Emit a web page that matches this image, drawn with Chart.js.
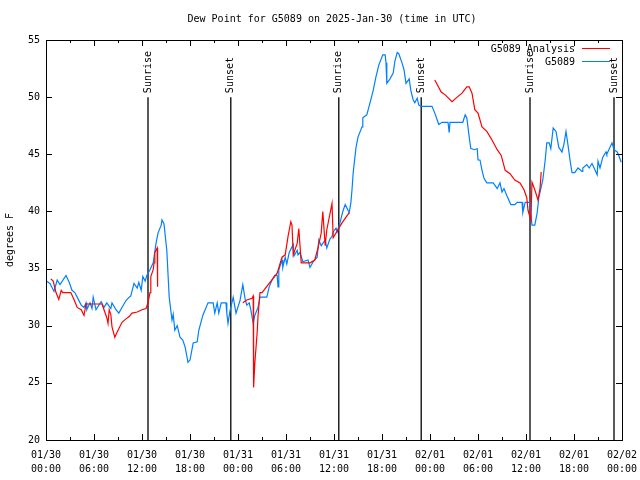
<!DOCTYPE html>
<html>
<head>
<meta charset="utf-8">
<title>Dew Point for G5089</title>
<script src="https://cdn.jsdelivr.net/npm/chart.js@4"></script>
<style>
  body { margin: 0; background: #fff; }
  canvas { display: block; }
</style>
</head>
<body>
<canvas id="dewChart" width="640" height="480"></canvas>
<script>
// hours since 2025-01-30 00:00 UTC
const obsHours = [0.09, 0.5, 1.0, 1.4, 1.75, 2.5, 2.9, 3.25, 3.6, 3.9, 4.4, 4.75, 5.0, 5.1, 5.5, 5.75, 5.9, 6.25, 6.6, 6.9,
  7.25, 7.6, 8.1, 8.25, 8.75, 9.1, 9.5, 10.0, 10.4, 10.6, 11.0, 11.4, 11.6, 11.9, 12.1, 12.4, 12.6, 13.0, 13.4, 13.75,
  14.0, 14.4, 14.5, 14.75, 15.1, 15.4, 15.75, 15.9, 16.1, 16.4, 16.75, 17.1, 17.4, 17.75, 18.0, 18.4, 18.9, 19.1, 19.6, 20.25,
  20.9, 21.1, 21.4, 21.6, 21.9, 22.5, 22.6, 22.75, 23.0, 23.4, 23.75, 24.25, 24.6, 24.9, 25.1, 25.4, 25.6, 25.9, 26.1, 26.5,
  26.75, 27.6, 27.9, 28.25, 28.6, 28.9, 29.0, 29.1, 29.5, 29.6, 29.9, 30.1, 30.4, 30.9, 31.0, 31.4, 31.5, 31.75, 32.1, 32.75,
  33.0, 33.4, 33.9, 34.1, 34.4, 34.9, 35.1, 35.5, 35.75, 35.9, 36.25, 36.4, 36.75, 37.1, 37.4, 37.75, 37.9, 38.1, 38.25, 38.4,
  38.75, 39.0, 39.5, 39.6, 40.1, 40.5, 40.9, 41.25, 41.6, 42.1, 42.4, 42.5, 42.6, 43.0, 43.4, 43.6, 43.9, 44.1, 44.5, 44.75,
  45.0, 45.4, 45.6, 45.9, 46.1, 46.4, 46.6, 46.9, 48.25, 48.6, 48.9, 49.1, 49.5, 50.25, 50.4, 50.5, 52.1, 52.4, 52.6, 52.9,
  53.1, 53.6, 53.9, 54.0, 54.25, 54.5, 54.75, 55.1, 55.9, 56.1, 56.4, 56.75, 57.0, 57.25, 57.6, 58.1, 58.6, 58.9, 59.5, 59.6,
  59.9, 60.5, 60.6, 60.75, 61.1, 61.4, 61.6, 62.1, 62.4, 62.6, 62.9, 63.1, 63.4, 63.75, 64.1, 64.5, 64.75, 65.0, 65.25, 65.5,
  65.75, 66.1, 66.5, 67.0, 67.1, 67.6, 67.9, 68.25, 68.9, 69.0, 69.25, 69.6, 70.0, 70.1, 70.75, 71.0, 71.4, 71.6, 71.9];
const obsDew = [33.9, 33.7, 33.0, 34.0, 33.6, 34.4, 33.8, 33.1, 32.9, 32.5, 31.8, 31.6, 32.0, 31.4, 32.0, 31.5, 32.5, 31.4, 31.8, 32.1,
  31.6, 32.0, 31.5, 32.0, 31.4, 31.1, 31.6, 32.2, 32.5, 32.6, 33.7, 33.3, 33.8, 33.1, 34.3, 33.9, 34.4, 34.9, 35.5, 37.2,
  38.1, 38.8, 39.25, 38.9, 36.6, 32.5, 30.5, 31.0, 29.6, 30.0, 29.0, 28.75, 28.1, 26.8, 27.0, 28.5, 28.6, 29.6, 30.9, 32.0,
  32.0, 31.1, 32.0, 31.1, 32.0, 32.0, 31.1, 30.2, 31.3, 32.5, 31.1, 32.2, 33.6, 32.3, 31.8, 32.0, 31.4, 30.2, 30.9, 31.6,
  32.5, 32.5, 33.4, 34.0, 34.4, 34.4, 33.4, 34.9, 35.75, 35.1, 36.0, 35.4, 36.4, 37.1, 36.1, 36.6, 36.2, 36.4, 35.6, 35.75,
  35.1, 35.6, 36.0, 37.5, 37.0, 37.5, 36.8, 37.6, 37.8, 38.2, 38.55, 38.2, 39.0, 40.0, 40.6, 40.1, 39.9, 40.7, 41.9, 43.4,
  45.6, 46.5, 47.4, 48.2, 48.45, 49.5, 50.6, 51.8, 52.8, 53.7, 53.7, 53.0, 51.2, 51.6, 52.1, 53.1, 53.9, 53.8, 53.0, 52.4,
  51.2, 51.6, 50.6, 49.75, 49.5, 49.9, 49.3, 49.2, 49.2, 48.6, 48.0, 47.6, 47.8, 47.8, 46.9, 47.8, 47.8, 48.45, 48.2, 46.5,
  45.5, 45.4, 45.5, 44.5, 44.5, 43.6, 42.9, 42.5, 42.5, 42.3, 42.0, 42.5, 41.7, 42.0, 41.4, 40.6, 40.6, 40.8, 40.8, 39.9,
  40.8, 40.8, 39.9, 38.8, 38.8, 39.9, 41.2, 42.75, 44.5, 46.0, 46.0, 45.5, 47.3, 47.0, 45.6, 45.2, 45.9, 47.0, 45.8, 44.5,
  43.4, 43.4, 43.8, 43.5, 43.8, 44.1, 43.8, 44.2, 43.2, 44.4, 43.8, 44.75, 45.2, 45.0, 46.0, 45.4, 45.2, 44.9, 44.3];

// analysis series, null marks a gap
const anaHours = [0.6, 0.9, 1.25, 1.6, 1.9, 2.1, 2.5, 3.1, 3.5, 3.9, 4.4, 4.75, 5.0, 7.0, 7.25, 7.6, 7.75, 7.9, 8.1, 8.25,
  8.6, 8.9, 9.5, 10.0, 10.4, 10.75, 11.4, 12.0, 12.5, 12.75, 13.0, 13.1, 13.4, 13.5, 13.6, 13.9, 13.95, 19.0,
  24.6, 25.1, 25.75, 25.9, 25.95, 26.1, 26.4, 26.5, 26.75, 27.0, 28.9, 29.5, 29.9, 30.25, 30.6, 30.75, 30.9, 31.4, 31.6, 31.9,
  33.0, 33.6, 34.0, 34.4, 34.6, 34.9, 35.1, 35.75, 35.9, 36.4, 37.0, 37.9, 43.0,
  48.6, 49.4, 49.9, 50.75, 51.4, 52.0, 52.6, 52.9, 53.25, 53.6, 54.0, 54.5, 55.1, 55.75, 56.4, 56.9, 57.4, 58.0, 58.6, 59.25,
  59.75, 60.1, 60.25, 60.6, 60.75, 61.1, 61.5, 61.75, 61.9];
const anaDew = [34.1, 33.9, 32.9, 32.3, 33.1, 32.9, 32.9, 32.9, 32.3, 31.6, 31.4, 30.9, 31.9, 31.9, 31.4, 30.7, 30.2, 31.4, 31.0, 29.9,
  29.0, 29.45, 30.3, 30.6, 30.8, 31.1, 31.2, 31.4, 31.5, 32.0, 32.9, 34.3, 34.9, 35.5, 36.4, 36.8, 33.4, null,
  32.0, 32.25, 32.4, 32.6, 24.6, 26.7, 29.45, 30.8, 32.9, 32.9, 34.6, 36.0, 36.2, 37.8, 39.1, 38.8, 36.2, 37.2, 38.5, 35.5,
  35.5, 35.75, 36.8, 38.1, 40.0, 37.0, 38.4, 40.7, 37.7, 38.3, 39.0, 39.9, null,
  51.5, 50.45, 50.2, 49.6, 50.0, 50.35, 50.9, 50.9, 50.35, 48.9, 48.6, 47.4, 47.0, 46.25, 45.4, 44.9, 43.6, 43.3, 42.75, 42.5,
  41.9, 41.2, 40.1, 39.25, 42.55, 41.9, 41.0, 42.0, 43.45];

const sunHours = [12.75, 23.1, 36.6, 46.9, 60.5, 71.0];
const sunLabels = ['Sunrise', 'Sunset', 'Sunrise', 'Sunset', 'Sunrise', 'Sunset'];
const sunTop = 50;

const dayLabels = ['01/30', '01/30', '01/30', '01/30', '01/31', '01/31', '01/31', '01/31', '02/01', '02/01', '02/01', '02/01', '02/02'];
const timeLabels = ['00:00', '06:00', '12:00', '18:00', '00:00', '06:00', '12:00', '18:00', '00:00', '06:00', '12:00', '18:00', '00:00'];

const FONT = '10px "DejaVu Sans Mono", monospace';

function pairs(xs, ys) {
    return xs.map((x, i) => ({ x: x, y: ys[i] }));
}

const sunSets = sunHours.map(h => ({
    data: [{ x: h, y: 20 }, { x: h, y: sunTop }],
    borderColor: '#000',
    borderWidth: 1.3,
    pointRadius: 0,
    fill: false
}));

const frame = {
    id: 'frame',
    afterDraw(chart) {
        const ctx = chart.ctx;
        const a = chart.chartArea;
        const xs = chart.scales.x;
        const ys = chart.scales.y;
        ctx.save();
        ctx.strokeStyle = '#000';
        ctx.lineWidth = 1;
        ctx.strokeRect(Math.round(a.left) + 0.5, Math.round(a.top) + 0.5,
            Math.round(a.right - a.left), Math.round(a.bottom - a.top));

        // x ticks, every 3 hours, inward on bottom and top
        ctx.beginPath();
        for (let h = 0; h <= 72; h += 3) {
            const px = Math.round(xs.getPixelForValue(h)) + 0.5;
            const len = h % 6 === 0 ? 6 : 3;
            ctx.moveTo(px, a.bottom); ctx.lineTo(px, a.bottom - len);
            ctx.moveTo(px, a.top); ctx.lineTo(px, a.top + len);
        }
        for (let v = 20; v <= 55; v += 5) {
            const py = Math.round(ys.getPixelForValue(v)) + 0.5;
            ctx.moveTo(a.left, py); ctx.lineTo(a.left + 6, py);
            ctx.moveTo(a.right, py); ctx.lineTo(a.right - 6, py);
        }
        ctx.stroke();

        ctx.fillStyle = '#000';
        ctx.font = FONT;

        // title
        ctx.textAlign = 'center';
        ctx.textBaseline = 'middle';
        ctx.fillText('Dew Point for G5089 on 2025-Jan-30 (time in UTC)', 332, 19);

        // y title
        ctx.save();
        ctx.translate(10, 240);
        ctx.rotate(-Math.PI / 2);
        ctx.fillText('degrees F', 0, 0);
        ctx.restore();

        // sunrise / sunset labels
        const topPx = ys.getPixelForValue(sunTop);
        sunHours.forEach((h, i) => {
            ctx.save();
            ctx.translate(xs.getPixelForValue(h), topPx - 4);
            ctx.rotate(-Math.PI / 2);
            ctx.textAlign = 'left';
            ctx.textBaseline = 'middle';
            ctx.fillText(sunLabels[i], 0, 0);
            ctx.restore();
        });

        // legend
        ctx.textAlign = 'right';
        const items = [['G5089 Analysis', '#ff0000', 49], ['G5089', '#0080ff', 62]];
        items.forEach(it => {
            ctx.fillStyle = '#000';
            ctx.fillText(it[0], 575, it[2]);
            ctx.strokeStyle = it[1];
            ctx.beginPath();
            ctx.moveTo(582, it[2] - 0.5);
            ctx.lineTo(610, it[2] - 0.5);
            ctx.stroke();
        });
        ctx.restore();
    }
};

new Chart(document.getElementById('dewChart'), {
    type: 'line',
    data: {
        datasets: [{
            label: 'G5089 Analysis',
            data: pairs(anaHours, anaDew),
            borderColor: '#ff0000',
            borderWidth: 1.2,
            pointRadius: 0,
            spanGaps: false,
            tension: 0
        }, {
            label: 'G5089',
            data: pairs(obsHours, obsDew),
            borderColor: '#0080ff',
            borderWidth: 1.2,
            pointRadius: 0,
            tension: 0
        }].concat(sunSets)
    },
    options: {
        responsive: false,
        animation: false,
        events: [],
        layout: { padding: { top: 40, right: 18, left: 0, bottom: 0 } },
        plugins: {
            legend: { display: false },
            title: { display: false },
            tooltip: { enabled: false }
        },
        scales: {
            x: {
                type: 'linear',
                min: 0,
                max: 72,
                grid: { display: false, drawTicks: false },
                border: { display: false },
                afterFit(scale) {
                    scale.height = 40;
                    scale.paddingLeft = 0;
                    scale.paddingRight = 0;
                },
                ticks: {
                    stepSize: 6,
                    padding: 8,
                    maxRotation: 0,
                    autoSkip: false,
                    color: '#000',
                    font: { family: '"DejaVu Sans Mono", monospace', size: 10, lineHeight: 1.4 },
                    callback: (v) => {
                        const i = Math.round(v / 6);
                        return [dayLabels[i], timeLabels[i]];
                    }
                }
            },
            y: {
                min: 20,
                max: 55,
                grid: { display: false, drawTicks: false },
                border: { display: false },
                afterFit(scale) {
                    scale.width = 46;
                    scale.paddingTop = 0;
                    scale.paddingBottom = 0;
                },
                ticks: {
                    stepSize: 5,
                    padding: 6,
                    color: '#000',
                    font: { family: '"DejaVu Sans Mono", monospace', size: 10 }
                }
            }
        }
    },
    plugins: [frame]
});
</script>
</body>
</html>
